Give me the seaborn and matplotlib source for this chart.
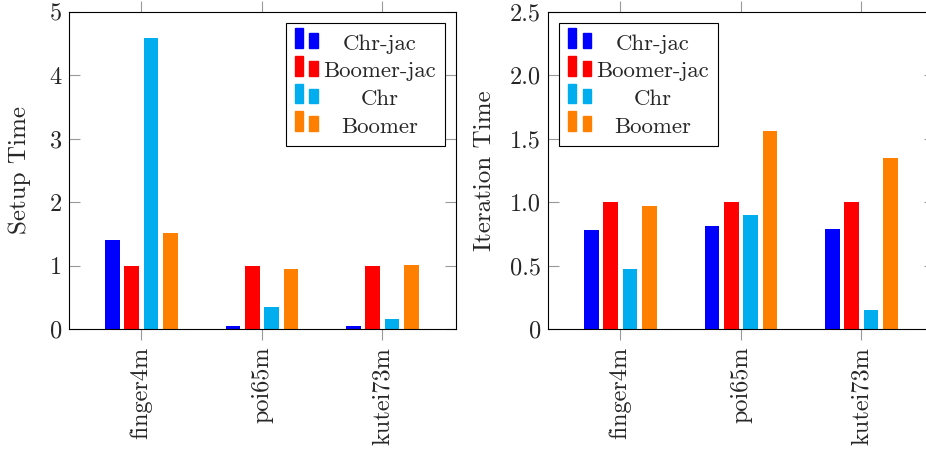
import pandas as pd
import seaborn as sns
import matplotlib.pyplot as plt
from matplotlib.patches import Rectangle

sns.set_style('white')
plt.rcParams['font.family'] = ['cmr10', 'DejaVu Serif']
plt.rcParams['axes.unicode_minus'] = False

matrices = ['finger4m', 'poi65m', 'kutei73m']
methods = ['Chr-jac', 'Boomer-jac', 'Chr', 'Boomer']
colors = ['#0000ff', '#ff0000', '#00aeef', '#ff8000']

setup_time = {
    'Chr-jac':    [1.41, 0.05, 0.05],
    'Boomer-jac': [1.00, 1.00, 1.00],
    'Chr':        [4.59, 0.35, 0.16],
    'Boomer':     [1.51, 0.95, 1.01],
}
iter_time = {
    'Chr-jac':    [0.78, 0.81, 0.79],
    'Boomer-jac': [1.00, 1.00, 1.00],
    'Chr':        [0.47, 0.90, 0.15],
    'Boomer':     [0.97, 1.56, 1.35],
}

left_ticks = [0, 1, 2, 3, 4, 5]
left_ticklabels = ['0', '1', '2', '3', '4', '5']
right_ticks = [0, 0.5, 1.0, 1.5, 2.0, 2.5]
right_ticklabels = ['0', '0.5', '1.0', '1.5', '2.0', '2.5']

# lange tabeller til seaborn
rows = []
for m in methods:
    for i, mat in enumerate(matrices):
        rows.append({'matrix': mat, 'method': m,
                     'setup': setup_time[m][i], 'iter': iter_time[m][i]})
df = pd.DataFrame(rows)


class TwoBarHandler:
    # pgfplots-agtig ybar legend: to smaa soejler
    def __init__(self, color):
        self.color = color

    def legend_artist(self, legend, orig_handle, fontsize, handlebox):
        x0, y0 = handlebox.xdescent, handlebox.ydescent
        w, h = handlebox.width, handlebox.height
        bw = w * 0.36
        r1 = Rectangle((x0, y0), bw, h, color=self.color,
                       transform=handlebox.get_transform())
        r2 = Rectangle((x0 + w - bw, y0), bw, h * 0.75, color=self.color,
                       transform=handlebox.get_transform())
        handlebox.add_artist(r1)
        handlebox.add_artist(r2)
        return r1


fig = plt.figure(figsize=(9.26, 4.53), dpi=100)
ax1 = fig.add_axes([69 / 926, 124 / 453, 387 / 926, 317 / 453])
ax2 = fig.add_axes([548 / 926, 124 / 453, 387 / 926, 317 / 453])

legends = []
for ax, col, label, ticks, tlabels, loc in [
        (ax1, 'setup', 'Setup Time', left_ticks, left_ticklabels, 'upper right'),
        (ax2, 'iter', 'Iteration Time', right_ticks, right_ticklabels, 'upper left')]:
    sns.barplot(data=df, x='matrix', y=col, hue='method', hue_order=methods,
                palette=colors, width=0.64, gap=0.24, saturation=1,
                linewidth=0, legend=False, ax=ax)
    ax.set_xlim(-0.6, 2.61)
    ax.set_ylim(ticks[0], ticks[-1])
    ax.set_yticks(ticks, tlabels)
    ax.set_xlabel('')
    ax.set_ylabel(label, fontsize=18)
    ax.tick_params(axis='x', which='both', direction='out', top=True, bottom=True,
                   length=7.7, width=0.8, color='#999999', labelsize=17.5, pad=5,
                   labelrotation=90)
    ax.tick_params(axis='y', which='both', direction='in', left=True, right=True,
                   length=7.7, width=0.8, color='#999999', labelsize=17.5, pad=5)
    for s in ax.spines.values():
        s.set_color('black')
        s.set_linewidth(0.8)

    handles = [Rectangle((0, 0), 1, 1, color=c) for c in colors]
    leg = ax.legend(handles, methods, loc=loc, fontsize=16.4, frameon=True,
                    fancybox=False, edgecolor='black', framealpha=1,
                    handler_map={h: TwoBarHandler(c) for h, c in zip(handles, colors)},
                    handlelength=1.0, handleheight=0.95, handletextpad=0.25,
                    labelspacing=0.27, borderpad=0.38, borderaxespad=0.5)
    leg.get_frame().set_linewidth(0.8)
    legends.append(leg)

ax1.yaxis.set_label_coords(-0.098, 0.5)
ax2.yaxis.set_label_coords(-0.135, 0.5)

# centrer legend-teksten i kolonnen
fig.canvas.draw()
r = fig.canvas.get_renderer()
for leg in legends:
    texts = leg.get_texts()
    widths = [t.get_window_extent(r).width for t in texts]
    wmax = max(widths)
    for t, w in zip(texts, widths):
        t.set_x((wmax - w) / 2)

fig.savefig('out.png', dpi=100)
